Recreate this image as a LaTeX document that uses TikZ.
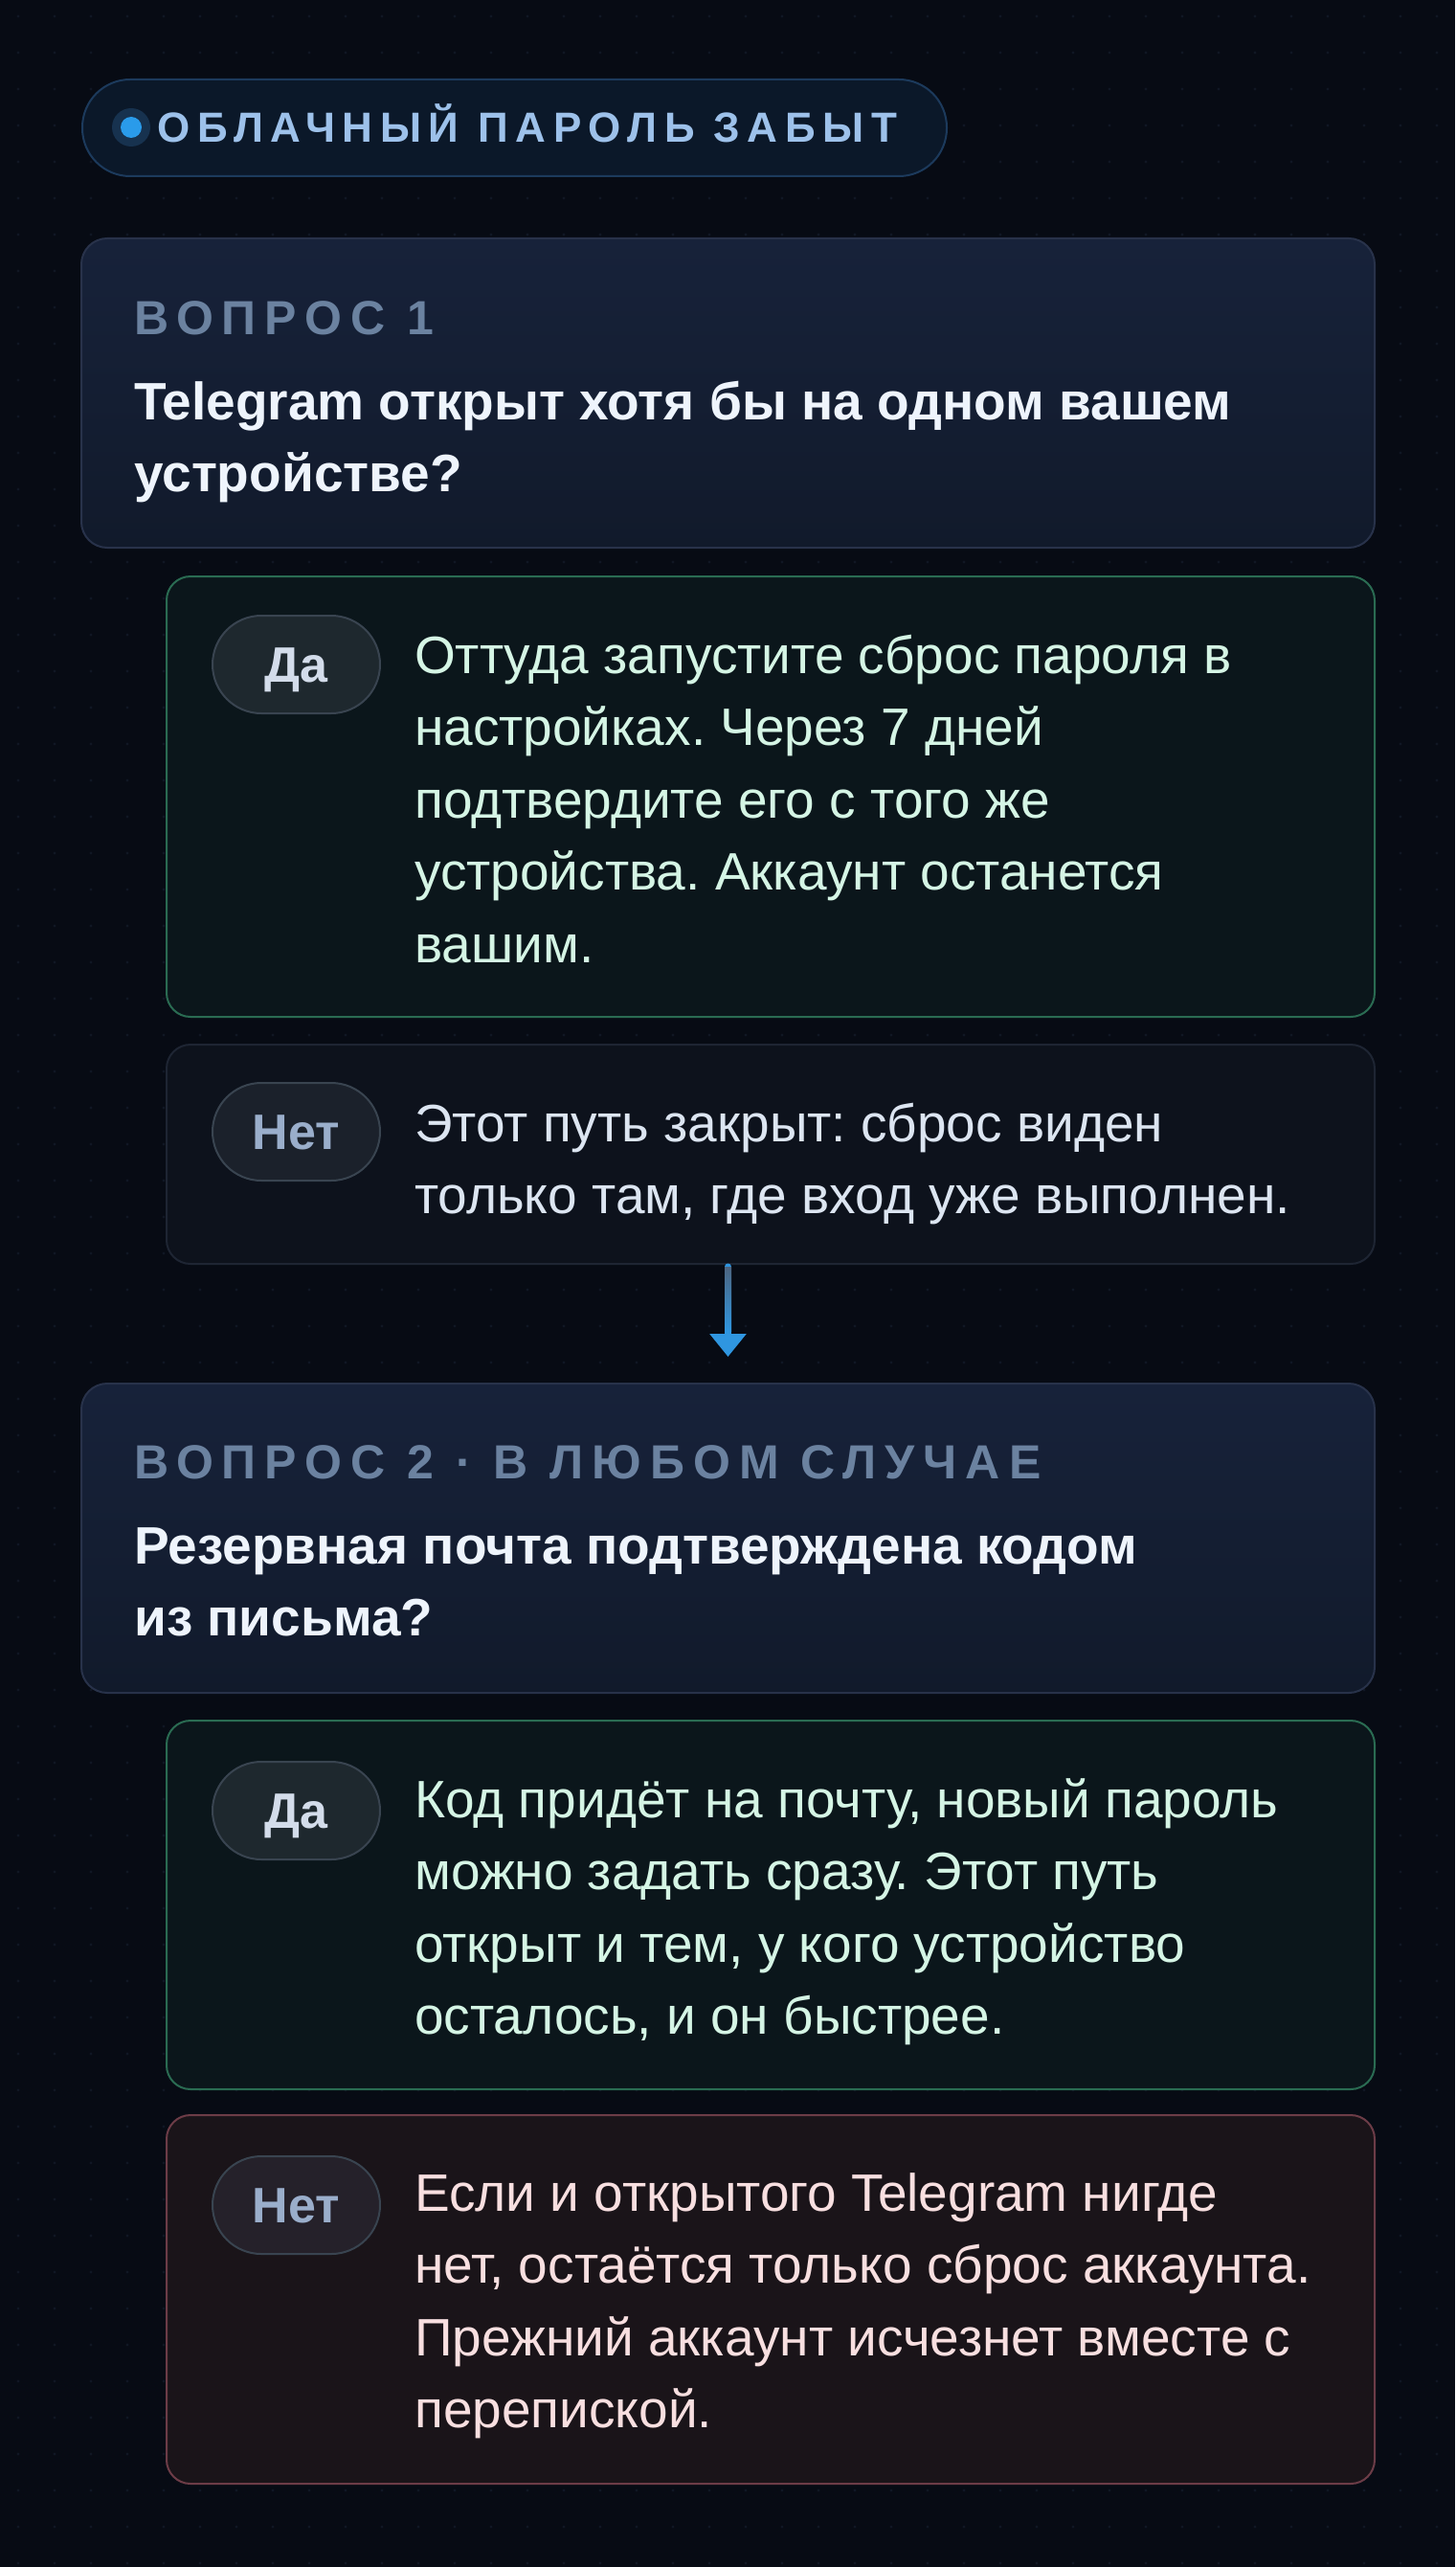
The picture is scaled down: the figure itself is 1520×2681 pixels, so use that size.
\documentclass[tikz,border=0pt]{standalone}
\usepackage{fontspec}
\setmainfont{Liberation Sans}
\newfontfamily\capsfont[LetterSpace=18]{Liberation Sans}
\newfontfamily\titlefont[LetterSpace=17.5]{Liberation Sans}
\usetikzlibrary{arrows.meta,calc}
\definecolor{bg}{HTML}{070B14}
\definecolor{dotc}{HTML}{101724}
\definecolor{pillfill}{HTML}{0B1829}
\definecolor{pillborder}{HTML}{1C3A5C}
\definecolor{pilltext}{HTML}{9DC1EA}
\definecolor{dotblue}{HTML}{2A9BEA}
\definecolor{dotring}{HTML}{17324F}
\definecolor{qtop}{HTML}{17223A}
\definecolor{qbot}{HTML}{111A2B}
\definecolor{qborder}{HTML}{28324A}
\definecolor{labelc}{HTML}{6B82A0}
\definecolor{qtext}{HTML}{EEF4FC}
\definecolor{yesfill}{HTML}{0B161B}
\definecolor{yesborder}{HTML}{2A6B52}
\definecolor{yestext}{HTML}{D5F5E5}
\definecolor{nofill}{HTML}{0D121C}
\definecolor{noborder}{HTML}{1E2533}
\definecolor{notext}{HTML}{DCE5F1}
\definecolor{redfill}{HTML}{1A1419}
\definecolor{redborder}{HTML}{6C3C47}
\definecolor{redtext}{HTML}{F8DFE0}
\definecolor{chipborder}{HTML}{394450}
\definecolor{chipyes}{HTML}{1E282E}
\definecolor{chipno}{HTML}{1B212B}
\definecolor{chipred}{HTML}{25212A}
\definecolor{chipyestext}{HTML}{D3DCEA}
\definecolor{chipnotext}{HTML}{9AAECB}
\definecolor{arrowblue}{HTML}{2F96E0}
\definecolor{arrowgrey}{HTML}{4D6580}
\tikzset{
  qbox/.style={draw=qborder, line width=2pt, top color=qtop, bottom color=qbot, rounded corners=27pt, inner sep=0pt, outer sep=0pt, anchor=north west, minimum width=1351pt},
  abox/.style={line width=2pt, rounded corners=25pt, inner sep=0pt, outer sep=0pt, anchor=north west, minimum width=1262pt},
  yesbox/.style={abox, draw=yesborder, fill=yesfill},
  nobox/.style={abox, draw=noborder, fill=nofill},
  redbox/.style={abox, draw=redborder, fill=redfill},
  chip/.style={draw=chipborder, line width=2pt, rounded corners=51pt, minimum width=175pt, minimum height=102pt, inner sep=0pt, text height=37pt, text depth=0pt, font=\fontsize{52}{60}\selectfont\bfseries},
  labeltext/.style={anchor=base west, inner sep=0pt, text=labelc, font=\capsfont\fontsize{50}{56}\selectfont\bfseries},
  qline/.style={anchor=base west, inner sep=0pt, text=qtext, font=\fontsize{55}{75}\selectfont\bfseries},
  bline/.style={anchor=base west, inner sep=0pt, font=\fontsize{55}{75}\selectfont},
}
\frenchspacing
\begin{document}
\begin{tikzpicture}[x=1pt,y=-1pt]
\useasboundingbox (0,0) rectangle (1520,2681);
\fill[bg] (0,0) rectangle (1520,2681);
\foreach \i in {0,...,39}{\foreach \j in {0,...,70}{\fill[dotc] (19+38*\i,17+38*\j) circle (1.6);}}

% title pill
\node[draw=pillborder, fill=pillfill, line width=2pt, rounded corners=50pt, minimum width=903pt, minimum height=101pt, anchor=north west, inner sep=0pt] (title) at (85,82) {};
\fill[dotring] (137,133) circle (20);
\fill[dotblue] (137,133) circle (11);
\node[anchor=base west, inner sep=0pt, text=pilltext, font=\titlefont\fontsize{44}{50}\selectfont\bfseries] (titletext) at (164,149) {ОБЛАЧНЫЙ ПАРОЛЬ ЗАБЫТ};

% question 1
\node[qbox, minimum height=323pt] (q1) at (85,249) {};
\node[labeltext] (q1label) at (140,349) {ВОПРОС 1};
\node[qline] (q1a) at (140,438) {Telegram открыт хотя бы на одном вашем};
\node[qline] (q1b) at (140,513) {устройстве?};

% yes 1
\node[yesbox, minimum height=460pt] (y1) at (174,602) {};
\node[chip, fill=chipyes, text=chipyestext] (y1chip) at (309.5,694) {Да};
\node[bline, text=yestext] (y1a) at (433,703) {Оттуда запустите сброс пароля в};
\node[bline, text=yestext] (y1b) at (433,778.5) {настройках. Через 7 дней};
\node[bline, text=yestext] (y1c) at (433,854) {подтвердите его с того же};
\node[bline, text=yestext] (y1d) at (433,929.5) {устройства. Аккаунт останется};
\node[bline, text=yestext] (y1e) at (433,1005) {вашим.};

% no 1
\node[nobox, minimum height=229pt] (n1) at (174,1091) {};
\node[chip, fill=chipno, text=chipnotext] (n1chip) at (309.5,1182) {Нет};
\node[bline, text=notext] (n1a) at (433,1192) {Этот путь закрыт: сброс виден};
\node[bline, text=notext] (n1b) at (433,1267.5) {только там, где вход уже выполнен.};

% question 2
\node[qbox, minimum height=323pt] (q2) at (85,1445) {};
\node[labeltext] (q2label) at (140,1544) {ВОПРОС 2 · В ЛЮБОМ СЛУЧАЕ};
\node[qline] (q2a) at (140,1633) {Резервная почта подтверждена кодом};
\node[qline] (q2b) at (140,1708) {из письма?};

% arrow
\draw[line width=7pt, arrowblue, line cap=round, -{Triangle[width=37pt,length=24pt]}] ($(n1.south -| q2.north)+(0,3)$) -- ($(q2.north)+(0,-28)$);
\shade[top color=arrowgrey, bottom color=arrowblue] ($(n1.south -| q2.north)+(-3.5,3)$) rectangle ($(n1.south -| q2.north)+(3.5,70)$);

% yes 2
\node[yesbox, minimum height=385pt] (y2) at (174,1797) {};
\node[chip, fill=chipyes, text=chipyestext] (y2chip) at (309.5,1891) {Да};
\node[bline, text=yestext] (y2a) at (433,1898) {Код придёт на почту, новый пароль};
\node[bline, text=yestext] (y2b) at (433,1973.5) {можно задать сразу. Этот путь};
\node[bline, text=yestext] (y2c) at (433,2049) {открыт и тем, у кого устройство};
\node[bline, text=yestext] (y2d) at (433,2124.5) {осталось, и он быстрее.};

% no 2 (red)
\node[redbox, minimum height=385pt] (n2) at (174,2209) {};
\node[chip, fill=chipred, text=chipnotext] (n2chip) at (309.5,2303) {Нет};
\node[bline, text=redtext] (n2a) at (433,2309) {Если и открытого Telegram нигде};
\node[bline, text=redtext] (n2b) at (433,2384.5) {нет, остаётся только сброс аккаунта.};
\node[bline, text=redtext] (n2c) at (433,2460) {Прежний аккаунт исчезнет вместе с};
\node[bline, text=redtext] (n2d) at (433,2535.5) {перепиской.};
\end{tikzpicture}
\end{document}
